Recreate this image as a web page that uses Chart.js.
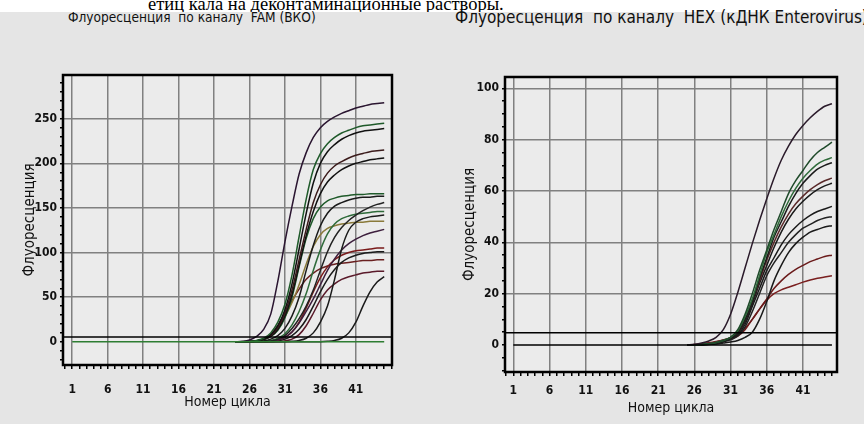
<!DOCTYPE html>
<html>
<head>
<meta charset="utf-8">
<script src="https://cdn.jsdelivr.net/npm/chart.js@4.4.1/dist/chart.umd.min.js"></script>
<style>
  html, body { margin: 0; padding: 0; background: #fff; }
  body { width: 864px; height: 424px; position: relative; overflow: hidden; }
  #topline { position: absolute; left: 148px; top: -6px; font: 18.5px 'Liberation Serif', 'Times New Roman', serif; line-height: 20px; white-space: nowrap; color: #000; }
  #panel { position: absolute; left: 0; top: 12px; width: 864px; height: 412px; background: #e5e5e5; }
  .ttl { position: absolute; font-family: 'DejaVu Sans Condensed', 'Liberation Sans Narrow', sans-serif; line-height: 16px; white-space: nowrap; color: #111; }
  .box { position: absolute; top: 12px; height: 412px; }
</style>
</head>
<body>
<div id="topline">етиц кала на деконтаминационные растворы.</div>
<div id="panel"></div>
<div class="ttl" style="left:68px;top:9px;font-size:13.6px">Флуоресценция&nbsp; по каналу&nbsp; FAM (ВКО)</div>
<div class="ttl" style="left:455px;top:9px;font-size:17px">Флуоресценция&nbsp; по каналу&nbsp; HEX (кДНК Enterovirus)</div>
<div class="box" style="left:0;width:430px"><canvas id="famChart" width="430" height="412"></canvas></div>
<div class="box" style="left:430px;width:434px"><canvas id="hexChart" width="434" height="412"></canvas></div>

<script>
// FAM channel (ВКО), cycles 24..45
const famCycles = [24, 25, 26, 27, 28, 29, 30, 31, 32, 33, 34, 35, 36, 37, 38, 39, 40, 41, 42, 43, 44, 45];
const famCurves = [
  [0, 0.5, 2, 6, 14, 31, 68, 112, 152, 188, 212, 229, 240, 247, 252, 256, 259, 262, 264, 266, 267, 268],
  [0, 0, 0.5, 1.5, 4, 10, 22, 42, 75, 118, 160, 193, 211, 222, 229, 234, 237, 240, 242, 243, 244, 245],
  [0, 0, 0.3, 1, 3, 8, 18, 36, 65, 104, 144, 178, 200, 213, 221, 227, 231, 234, 236, 237, 238, 239],
  [0, 0, 0.3, 1, 3, 7, 16, 32, 58, 92, 126, 156, 176, 189, 197, 202, 206, 209, 211, 213, 214, 215],
  [0, 0, 0.2, 0.8, 2.5, 6, 14, 29, 53, 86, 119, 146, 166, 179, 187, 193, 197, 200, 202, 204, 205, 206],
  [0, 0, 0.2, 0.8, 2.5, 6, 13, 27, 50, 84, 116, 138, 151, 158, 161, 163, 164, 165, 165, 166, 166, 166],
  [0, 0, 0, 0.3, 1, 3, 7, 15, 29, 50, 80, 108, 130, 144, 152, 156, 159, 161, 162, 162, 163, 163],
  [0, 0, 0, 0, 0.3, 1, 3, 7, 15, 26, 40, 58, 80, 101, 117, 128, 136, 142, 147, 151, 154, 156],
  [0, 0, 0, 0, 0.5, 1.5, 4, 9, 19, 34, 54, 80, 103, 121, 132, 138, 141, 143, 144, 145, 146, 146],
  [0, 0, 0, 0, 0, 0, 0, 0, 0.5, 1.5, 4, 10, 22, 40, 70, 104, 125, 134, 138, 140, 141, 142],
  [0, 0, 0.3, 1, 3, 7, 15, 28, 44, 64, 87, 107, 120, 127, 130, 132, 133, 134, 134, 135, 135, 135],
  [0, 0, 0, 0, 0.3, 0.8, 2, 5, 11, 21, 34, 48, 64, 80, 93, 103, 110, 115, 119, 122, 124, 126],
  [0, 0, 0, 0, 0, 0.5, 2, 5, 11, 22, 38, 56, 72, 84, 92, 97, 100, 102, 103, 104, 105, 105],
  [0, 0, 0, 0, 0, 0.3, 1, 3, 7, 14, 25, 40, 56, 70, 81, 89, 94, 97, 99, 100, 101, 101],
  [0, 0, 0.3, 1, 3, 8, 18, 32, 46, 59, 70, 77, 82, 85, 87, 88, 89, 90, 91, 91, 92, 92],
  [0, 0, 0, 0, 0, 0, 0.3, 1, 3, 8, 18, 32, 47, 58, 65, 70, 73, 75, 77, 78, 79, 79],
  [0, 0, 0, 0, 0, 0, 0, 0, 0, 0, 0, 0, 0, 0.5, 1.5, 4, 10, 22, 40, 56, 67, 73]
];
const famColors = ['#2a1530', '#1f5a2a', '#111111', '#3a1a1a', '#111111', '#1f5a2a', '#1a1a1a', '#222222', '#2f6b3a',
                   '#1a1a1a', '#8a7a3a', '#3d1f3d', '#7a1a1a', '#1a1a1a', '#6a2020', '#5a1a2a', '#1a1a1a'];
const famNegCycles = [1, 45];
const famNeg = [0, 0];
const famThreshold = 5.5;

// HEX channel (кДНК Enterovirus), cycles 25..45
const hexCycles = [25, 26, 27, 28, 29, 30, 31, 32, 33, 34, 35, 36, 37, 38, 39, 40, 41, 42, 43, 44, 45];
const hexCurves = [
  [0, 0.3, 0.8, 1.6, 3, 6, 12, 20.5, 30, 39.5, 48.5, 57, 65, 72, 77.5, 82, 85.5, 88.5, 91, 93, 94],
  [0, 0, 0.2, 0.5, 1, 1.8, 3, 6, 12, 20, 29, 37, 45, 52, 59, 64, 68, 72, 75, 77, 79],
  [0, 0, 0.2, 0.5, 1, 1.8, 3, 5.5, 11, 18, 27, 36, 43, 50, 56, 61, 65, 68, 70.5, 72, 73],
  [0, 0, 0.2, 0.4, 0.8, 1.5, 2.5, 5, 10, 17, 26, 34, 42, 48, 54, 59, 63, 66, 68.5, 70, 71],
  [0, 0, 0.3, 0.6, 1.2, 2, 3, 5, 10, 17, 25, 33, 40, 46, 51, 55, 58, 60.5, 62.5, 64, 65],
  [0, 0, 0.2, 0.4, 0.8, 1.5, 2.5, 4.5, 9, 16, 24, 31, 38, 44, 49, 53, 56, 58.5, 60.5, 62, 63],
  [0, 0, 0.2, 0.4, 0.8, 1.5, 2.5, 4, 8, 15, 22, 29, 34, 39, 43, 46, 48.5, 50.5, 52, 53, 54],
  [0, 0, 0.1, 0.3, 0.6, 1.2, 2, 3.5, 7, 13, 20, 27, 32, 36, 40, 43, 45.5, 47, 48.5, 49.5, 50],
  [0, 0, 0, 0.2, 0.4, 0.8, 1.2, 1.8, 3, 5, 10, 17, 25, 31, 36, 39.5, 42, 44, 45, 46, 46.5],
  [0, 0, 0.3, 0.7, 1.2, 1.8, 2.5, 3.5, 6, 10, 14, 18, 22, 25, 27.5, 29.5, 31, 32.5, 33.5, 34.5, 35],
  [0, 0.2, 0.5, 0.9, 1.4, 2, 2.8, 4, 6.5, 10, 14, 17.5, 20, 21.5, 22.5, 23.5, 24.5, 25.3, 26, 26.5, 27]
];
const hexColors = ['#2a1a2a', '#1f4a2a', '#2f6b3a', '#1a1a1a', '#5a2a2a', '#1a1a1a', '#1a1a1a', '#222222', '#1a1a1a',
                   '#6a1a1a', '#7a1f1f'];
const hexBaseCycles = [1, 45];
const hexBase = [0, 0];
const hexThreshold = 4.8;

const labelFont = "'DejaVu Sans Condensed', 'Liberation Sans Narrow', sans-serif";

// plot background + black frame
const framePlugin = {
  id: 'frame',
  beforeDraw(chart) {
    const a = chart.chartArea, ctx = chart.ctx;
    ctx.save();
    ctx.fillStyle = '#ebebeb';
    ctx.fillRect(a.left, a.top, a.right - a.left, a.bottom - a.top);
    ctx.restore();
  },
  afterDraw(chart) {
    const a = chart.chartArea, ctx = chart.ctx;
    ctx.save();
    ctx.strokeStyle = '#000';
    ctx.lineWidth = 2.5;
    ctx.strokeRect(a.left, a.top, a.right - a.left, a.bottom - a.top);
    ctx.restore();
  }
};

function pts(xs, ys) {
  return xs.map((x, i) => ({ x: x, y: ys[i] }));
}

function makeChart(id, s) {
  const datasets = [];
  datasets.push({ data: [{ x: s.xMin, y: s.threshold }, { x: s.xMax, y: s.threshold }], borderColor: '#000', borderWidth: 1.5 });
  datasets.push({ data: pts(s.baseCycles, s.base), borderColor: s.baseColor, borderWidth: 1.6 });
  s.curves.forEach((c, i) => {
    datasets.push({ data: pts(s.cycles, c), borderColor: s.colors[i], borderWidth: 1.5, cubicInterpolationMode: 'monotone' });
  });

  return new Chart(document.getElementById(id), {
    type: 'line',
    data: { datasets: datasets },
    plugins: [framePlugin],
    options: {
      responsive: false,
      animation: false,
      events: [],
      elements: { point: { radius: 0 } },
      layout: { padding: { top: s.padTop, right: s.padRight, left: 0, bottom: 0 } },
      plugins: { legend: { display: false }, tooltip: { enabled: false } },
      scales: {
        x: {
          type: 'linear', min: s.xMin, max: s.xMax,
          afterFit: (sc) => { sc.height = s.xHeight; },
          border: { display: false },
          grid: {
            color: (c) => (c.tick && (c.tick.value - 1) % 5 === 0 && c.tick.value >= 1 && c.tick.value <= 41) ? '#808080' : 'rgba(0,0,0,0)',
            tickColor: '#000', tickLength: 4, lineWidth: 1.5
          },
          ticks: {
            stepSize: 1, autoSkip: false, maxRotation: 0, includeBounds: false, padding: s.xTickPad,
            color: '#111', font: { family: labelFont, size: 12, weight: 'bold' },
            callback: (v) => ((v - 1) % 5 === 0 && v >= 1 && v <= 41) ? String(v) : ''
          },
          title: { display: true, text: 'Номер цикла', color: '#111', font: { family: labelFont, size: 14 }, padding: { top: 0, bottom: s.xTitlePad } }
        },
        y: {
          min: s.yMin, max: s.yMax,
          afterFit: (sc) => { sc.width = s.yWidth; },
          border: { display: false },
          grid: {
            color: (c) => (c.tick && c.tick.value % s.yMajor === 0 && c.tick.value > 0) ? '#808080' : 'rgba(0,0,0,0)',
            tickColor: '#000', tickLength: 3, lineWidth: 1.5
          },
          ticks: {
            stepSize: s.yMinor, autoSkip: false, includeBounds: false, padding: 3,
            color: '#111', font: { family: labelFont, size: 12, weight: 'bold' },
            callback: (v) => (v % s.yMajor === 0 && v >= 0) ? String(v) : ''
          },
          title: { display: true, text: 'Флуоресценция', color: '#111', font: { family: labelFont, size: s.yTitleSize }, padding: { top: s.yTitlePad, bottom: 0 } }
        }
      }
    }
  });
}

makeChart('famChart', {
  cycles: famCycles, curves: famCurves, colors: famColors,
  baseCycles: famNegCycles, base: famNeg, baseColor: '#2e7d32', threshold: famThreshold,
  xMin: -0.3, xMax: 46.1, yMin: -26, yMax: 299, yMajor: 50, yMinor: 10,
  padTop: 63, padRight: 38, yWidth: 63, xHeight: 59, xTickPad: 14, xTitlePad: 13, yTitlePad: 21, yTitleSize: 15
});

makeChart('hexChart', {
  cycles: hexCycles, curves: hexCurves, colors: hexColors,
  baseCycles: hexBaseCycles, base: hexBase, baseColor: '#000', threshold: hexThreshold,
  xMin: -0.15, xMax: 45.7, yMin: -10.5, yMax: 104.4, yMajor: 20, yMinor: 5,
  padTop: 65, padRight: 27, yWidth: 75, xHeight: 52, xTickPad: 8, xTitlePad: 7, yTitlePad: 31, yTitleSize: 15
});
</script>
</body>
</html>
